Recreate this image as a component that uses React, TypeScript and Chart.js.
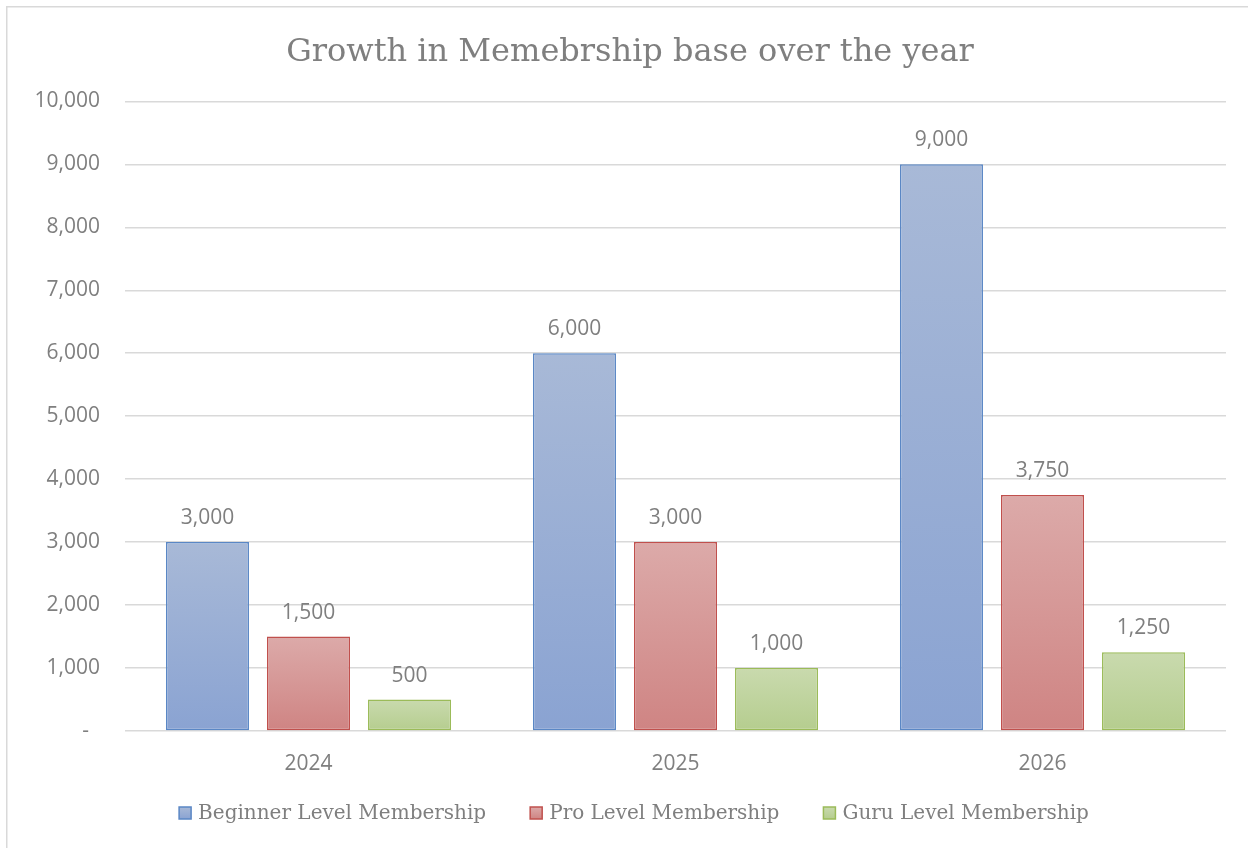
import React, { useEffect, useRef } from 'react';
import { Chart, registerables } from 'chart.js';

Chart.register(...registerables);

const titleText = 'Growth in Memebrship base over the year';
const categories = ['2024', '2025', '2026'];
const seriesLabels = ['Beginner Level Membership', 'Pro Level Membership', 'Guru Level Membership'];
const beginnerValues = [3000, 6000, 9000];
const proValues = [1500, 3000, 3750];
const guruValues = [500, 1000, 1250];
const yMin = 0;
const yMax = 10000;
const yStep = 1000;

const palette = [
  { top: '#a8b9d7', bottom: '#8aa3d2', mid: '#99aed5', border: '#5a87c5' },
  { top: '#dcaaa9', bottom: '#cf8483', mid: '#d69796', border: '#c0504d' },
  { top: '#c9daae', bottom: '#b5cd8e', mid: '#bfd39e', border: '#9bbb59' },
];

const GRAY = '#7f7f7f';
const SANS = '"Open Sans", "Liberation Sans", sans-serif';
const SERIF = '"DejaVu Serif", "Liberation Serif", serif';

function barFill(i: number) {
  return (ctx: any) => {
    const p = palette[i];
    const chart = ctx.chart;
    if (ctx.type !== 'data' || !chart.chartArea || !chart.scales.y) return p.mid;
    const ys = chart.scales.y;
    const top = ys.getPixelForValue(ctx.raw);
    const bottom = ys.getPixelForValue(0);
    if (!isFinite(top) || !isFinite(bottom) || top === bottom) return p.mid;
    const g = chart.ctx.createLinearGradient(0, top, 0, bottom);
    g.addColorStop(0, p.top);
    g.addColorStop(1, p.bottom);
    return g;
  };
}

const frameBorder = {
  id: 'frameBorder',
  beforeDraw(chart: any) {
    const c = chart.ctx;
    c.save();
    c.fillStyle = '#ffffff';
    c.fillRect(0, 0, chart.width, chart.height);
    c.strokeStyle = '#d9d9d9';
    c.lineWidth = 1.5;
    c.beginPath();
    c.moveTo(0.75, chart.height);
    c.lineTo(0.75, 0.75);
    c.lineTo(chart.width, 0.75);
    c.stroke();
    c.restore();
  },
};

const valueLabels = {
  id: 'valueLabels',
  afterDatasetsDraw(chart: any) {
    const c = chart.ctx;
    c.save();
    c.font = `21px ${SANS}`;
    c.fillStyle = GRAY;
    c.textAlign = 'center';
    c.textBaseline = 'alphabetic';
    chart.data.datasets.forEach((ds: any, di: number) => {
      const meta = chart.getDatasetMeta(di);
      meta.data.forEach((el: any, i: number) => {
        c.fillText(Number(ds.data[i]).toLocaleString('en-US'), el.x, el.y - 18);
      });
    });
    c.restore();
  },
};

const bottomLegend = {
  id: 'bottomLegend',
  afterDraw(chart: any) {
    const c = chart.ctx;
    c.save();
    c.font = `20px ${SERIF}`;
    const box = 12;
    const gap = 7;
    const spacing = 44;
    const widths = chart.data.datasets.map((ds: any) => c.measureText(ds.label).width);
    const total = widths.reduce((a: number, w: number) => a + box + gap + w, 0) + spacing * (widths.length - 1);
    let x = 628 - total / 2;
    const y = 807;
    chart.data.datasets.forEach((ds: any, i: number) => {
      const p = palette[i];
      const g = c.createLinearGradient(0, y - box / 2, 0, y + box / 2);
      g.addColorStop(0, p.top);
      g.addColorStop(1, p.bottom);
      c.fillStyle = g;
      c.fillRect(x, y - box / 2, box, box);
      c.strokeStyle = p.border;
      c.lineWidth = 1.5;
      c.strokeRect(x, y - box / 2, box, box);
      c.fillStyle = GRAY;
      c.textAlign = 'left';
      c.textBaseline = 'middle';
      c.fillText(ds.label, x + box + gap, y + 1);
      x += box + gap + widths[i] + spacing;
    });
    c.restore();
  },
};

export default function App() {
  const ref = useRef<HTMLCanvasElement | null>(null);

  useEffect(() => {
    if (!ref.current) return;
    const seriesValues = [beginnerValues, proValues, guruValues];
    const chart = new Chart(ref.current, {
      type: 'bar',
      data: {
        labels: categories,
        datasets: seriesValues.map((vals, i) => ({
          label: seriesLabels[i],
          data: vals,
          backgroundColor: barFill(i),
          borderColor: palette[i].border,
          borderWidth: 1.5,
          borderSkipped: false,
          categoryPercentage: 0.826,
          barPercentage: 0.822,
        })),
      },
      options: {
        responsive: false,
        animation: false,
        devicePixelRatio: 1,
        layout: { padding: { left: 28, right: 28, top: 0, bottom: 73 } },
        plugins: {
          legend: { display: false },
          tooltip: { enabled: false },
          title: {
            display: true,
            text: titleText,
            color: GRAY,
            font: { family: SERIF, size: 32, weight: 'normal' },
            padding: { top: 27, bottom: 30 },
          },
        },
        scales: {
          x: {
            grid: { display: false, drawTicks: false },
            border: { display: false },
            ticks: { color: GRAY, font: { family: SANS, size: 21 }, padding: 20 },
            afterFit: (s: any) => { s.height = 50; },
          },
          y: {
            min: yMin,
            max: yMax,
            grid: { color: '#d9d9d9', lineWidth: 1.5, drawTicks: false },
            border: { display: false },
            ticks: {
              stepSize: yStep,
              color: GRAY,
              font: { family: SANS, size: 21 },
              padding: 25,
              callback: (v: any) => (Number(v) === 0 ? '-  ' : Number(v).toLocaleString('en-US')),
            },
            afterFit: (s: any) => { s.width = 91; },
          },
        },
      },
      plugins: [frameBorder, valueLabels, bottomLegend],
    });
    return () => chart.destroy();
  }, []);

  return (
    <div style={{ position: 'fixed', left: 0, top: 0, width: 1248, height: 848, overflow: 'hidden', background: '#fff' }}>
      <canvas ref={ref} width={1248} height={848} style={{ position: 'absolute', left: 6, top: 6, width: 1248, height: 848 }} />
    </div>
  );
}
